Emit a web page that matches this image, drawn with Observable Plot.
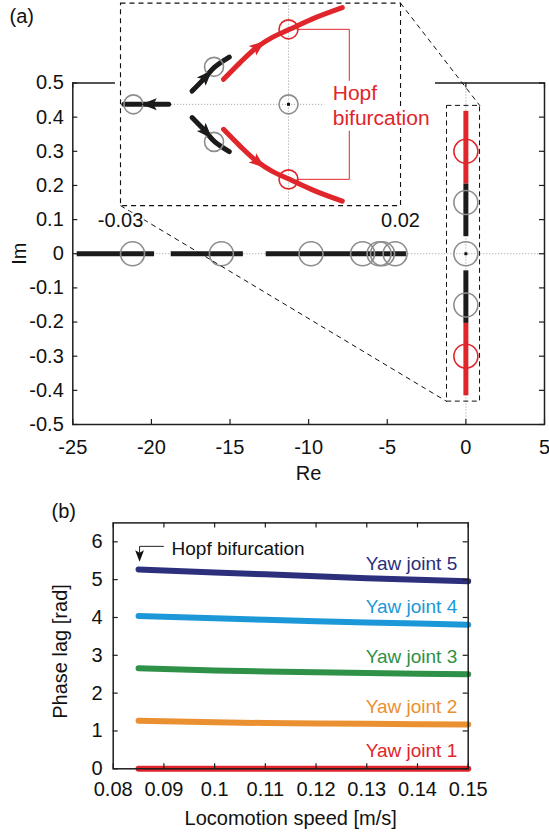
<!DOCTYPE html>
<html><head><meta charset="utf-8">
<script src="https://cdn.jsdelivr.net/npm/d3@7"></script>
<script src="https://cdn.jsdelivr.net/npm/@observablehq/plot@0.6"></script>
<style>
body{margin:0;background:#fff;}
#wrap{position:relative;width:549px;height:832px;overflow:hidden;background:#fff;}
</style></head><body><div id="wrap"></div>
<script>
// ================= Panel (a) data: root locus =================
const reTicks = [-25, -20, -15, -10, -5, 0, 5];
const imTicks = [-0.5, -0.4, -0.3, -0.2, -0.1, 0, 0.1, 0.2, 0.3, 0.4, 0.5];
const reBranchStart = [-24.72, -18.74, -12.7];
const reBranchEnd = [-19.8, -14.15, -3.78];
const realPoles = [-21.2, -15.55, -9.85, -6.57, -5.52, -5.3, -4.5];
const imSegLow = [0.204, 0.05, -0.204, -0.416];
const imSegHigh = [0.417, 0.204, -0.05, -0.204];
const imSegKind = ["unstable", "stable", "stable", "unstable"];
const imPoles = [0.3, 0.15, 0, -0.15, -0.3];
const imPoleKind = ["unstable", "stable", "stable", "stable", "unstable"];
const zoomRe = [-1.2, 0.9];
const zoomIm = [-0.433, 0.433];
const insetRe = [-21.97, -4.16];   // inset placement in main Re/Im units
const insetIm = [0.141, 0.734];

// ================= Inset data (zoom near origin) =================
const insetReDomain = [-0.03, 0.02];
const insetImDomain = [-0.405, 0.405];
const insetTicks = [-0.03, 0.02];
const redUpRe = [-0.0116, -0.0086, -0.0056, -0.0029, 0.0001, 0.0047, 0.0096];
const redUpIm = [0.100, 0.168, 0.229, 0.268, 0.299, 0.346, 0.387];
const blackUpRe = [-0.01722, -0.01485, -0.01325, -0.01058];
const blackUpIm = [0.053, 0.108, 0.148, 0.189];
const leftBranchRe = [-0.0294, -0.0214];
const leftArrowRe = -0.0246;
const insetDottedRe = [-0.0214, 0.0065];
const stablePoleRe = [-0.0277, -0.0133, -0.0133, 0];
const stablePoleIm = [0, 0.15, -0.15, 0];
const hopfPoleRe = [0, 0];
const hopfPoleIm = [0.3, -0.3];
const bracketRe = [0.0015, 0.01085, 0.01085];
const bracketUpIm = [0.3, 0.3, 0.096];
const bracketLoIm = [-0.3, -0.3, -0.107];
const hopfTextRe = 0.0079, hopfTextIm = 0.089;

// ================= Panel (b) data: phase lags =================
const speed = [0.085, 0.09, 0.10, 0.11, 0.12, 0.13, 0.14, 0.15];
const yaw1 = [0, 0, 0, 0, 0, 0, 0, 0];
const yaw2 = [1.27, 1.26, 1.23, 1.21, 1.20, 1.19, 1.18, 1.17];
const yaw3 = [2.66, 2.64, 2.60, 2.57, 2.55, 2.53, 2.51, 2.50];
const yaw4 = [4.04, 4.02, 3.98, 3.94, 3.90, 3.87, 3.84, 3.81];
const yaw5 = [5.27, 5.24, 5.19, 5.14, 5.09, 5.04, 5.00, 4.96];
const jointNames = ["Yaw joint 1", "Yaw joint 2", "Yaw joint 3", "Yaw joint 4", "Yaw joint 5"];
const speedTicks = [0.08, 0.09, 0.1, 0.11, 0.12, 0.13, 0.14, 0.15];
const lagTicks = [0, 1, 2, 3, 4, 5, 6];
const hopfLineSpeed = [0.0899, 0.0852, 0.0852];
const hopfLineLag = [5.88, 5.88, 5.72];
const hopfHeadSpeed = 0.0852, hopfHeadLag = 5.66;
const hopfLabelSpeed = 0.0915, hopfLabelLag = 5.82;

// ================= styling =================
const FONT = "'Liberation Sans', Arial, Helvetica, sans-serif";
const RED = "#e0262b", BLK = "#1b1b1b", GRY = "#8d8d8d", DOT = "#9a9a9a", AX = "#1e1e1e";
const jointColors = ["#e1252b", "#ea9030", "#2f9147", "#1c98d8", "#2b2f7c"];
const arrowHead = {
  draw(ctx, size) {
    const s = Math.sqrt(size / Math.PI);
    ctx.moveTo(0, -1.3 * s);
    ctx.lineTo(0.8 * s, 0.8 * s);
    ctx.lineTo(0, 0.35 * s);
    ctx.lineTo(-0.8 * s, 0.8 * s);
    ctx.closePath();
  }
};
const wrap = document.getElementById("wrap");

// ================= Panel (a) =================
const A = {w: 549, h: 480, ml: 72.3, mr: 5, mt: 82.5, mb: 56};
const aIW = A.w - A.ml - A.mr, aIH = A.h - A.mt - A.mb;
const plotA = Plot.plot({
  width: A.w, height: A.h, marginLeft: A.ml, marginRight: A.mr, marginTop: A.mt, marginBottom: A.mb,
  x: {domain: [-25, 5], axis: null}, y: {domain: [-0.5, 0.5], axis: null}, color: {type: "identity"},
  style: {fontFamily: FONT, position: "absolute", left: "0px", top: "0px", background: "transparent", overflow: "visible", color: "#111"},
  marks: [
    Plot.ruleY([0], {stroke: DOT, strokeDasharray: "1,2", strokeWidth: 1}),
    Plot.ruleX([0], {stroke: DOT, strokeDasharray: "1,2", strokeWidth: 1}),
    Plot.ruleY(reBranchStart.map((s, i) => ({x1: s, x2: reBranchEnd[i]})), {y: () => 0, x1: "x1", x2: "x2", stroke: BLK, strokeWidth: 5}),
    Plot.ruleX(imSegKind.map((k, i) => ({lo: imSegLow[i], hi: imSegHigh[i], k})), {x: () => 0, y1: "lo", y2: "hi", stroke: d => d.k === "unstable" ? RED : BLK, strokeWidth: 5}),
    Plot.dot(realPoles, {x: d => d, y: () => 0, r: 12, stroke: GRY, strokeWidth: 1.6, fill: "none"}),
    Plot.dot(imPoles.map((v, i) => ({v, k: imPoleKind[i]})), {x: () => 0, y: "v", r: 12, stroke: d => d.k === "unstable" ? RED : GRY, strokeWidth: 1.6, fill: "none"}),
    Plot.dot([0], {x: () => 0, y: () => 0, symbol: "square", r: 1.7, fill: "#111"}),
    Plot.rect([0], {x1: () => zoomRe[0], x2: () => zoomRe[1], y1: () => zoomIm[0], y2: () => zoomIm[1], fill: "none", stroke: "#111", strokeWidth: 1, strokeDasharray: "5,3.5"}),
    Plot.frame({stroke: AX, strokeWidth: 1.5}),
    Plot.tickX(reTicks, {x: d => d, insetTop: aIH - 5, stroke: AX, strokeWidth: 1.2}),
    Plot.tickX(reTicks, {x: d => d, insetBottom: aIH - 5, stroke: AX, strokeWidth: 1.2}),
    Plot.tickY(imTicks, {y: d => d, insetRight: aIW - 5, stroke: AX, strokeWidth: 1.2}),
    Plot.tickY(imTicks, {y: d => d, insetLeft: aIW - 5, stroke: AX, strokeWidth: 1.2}),
    // white backing of the inset (hides the frame behind it)
    Plot.rect([0], {x1: () => insetRe[0], x2: () => insetRe[1], y1: () => insetIm[0], y2: () => insetIm[1],
      fill: "white", insetLeft: -5, insetRight: -35, insetTop: -3, insetBottom: -2}),
    Plot.link([
      {x1: insetRe[1], y1: insetIm[1], x2: zoomRe[1], y2: zoomIm[1]},
      {x1: insetRe[0], y1: insetIm[0], x2: zoomRe[0], y2: zoomIm[0]}
    ], {x1: "x1", y1: "y1", x2: "x2", y2: "y2", stroke: "#111", strokeWidth: 1, strokeDasharray: "5,4"}),
    Plot.text(reTicks, {x: d => d, text: d => String(d), frameAnchor: "bottom", lineAnchor: "top", dy: 14.8, fontSize: 20, fill: "#111"}),
    Plot.text(imTicks, {y: d => d, text: d => String(d), frameAnchor: "left", textAnchor: "end", dx: -9, fontSize: 20, fill: "#111"}),
    Plot.text(["Re"], {frameAnchor: "bottom", lineAnchor: "top", dy: 40.8, fontSize: 20, fill: "#111"}),
    Plot.text(["Im"], {frameAnchor: "left", textAnchor: "middle", rotate: -90, dx: -53.7, fontSize: 20, fill: "#111"}),
    Plot.text(["(a)"], {frameAnchor: "top-left", textAnchor: "start", lineAnchor: "top", dx: 9 - A.ml, dy: 8.7 - A.mt, fontSize: 20, fill: "#111"})
  ]
});
wrap.appendChild(plotA);

// ================= Inset =================
const sxA = plotA.scale("x"), syA = plotA.scale("y");
const iL = sxA.apply(insetRe[0]), iR = sxA.apply(insetRe[1]);
const iT = syA.apply(insetIm[1]), iB = syA.apply(insetIm[0]);
const pad = {l: 5, r: 35, t: Math.min(3, iT), b: 2};
const I = {left: iL - pad.l, top: iT - pad.t, w: (iR - iL) + pad.l + pad.r, h: (iB - iT) + pad.t + pad.b};
const kx = (iR - iL) / (insetReDomain[1] - insetReDomain[0]);
const ky = (iB - iT) / (insetImDomain[1] - insetImDomain[0]);
function headAt(xsA, ysA, i, c) {
  const dxs = (xsA[i + 1] - xsA[i - 1]) * kx;
  const dys = -(ysA[i + 1] - ysA[i - 1]) * ky;
  return {x: xsA[i], y: ysA[i], rot: Math.atan2(dxs, -dys) * 180 / Math.PI, c};
}
const neg = a => a.map(v => -v);
const redPts = [
  ...redUpRe.map((x, i) => ({x, y: redUpIm[i], side: "up"})),
  ...redUpRe.map((x, i) => ({x, y: -redUpIm[i], side: "lo"}))
];
const blackPts = [
  ...blackUpRe.map((x, i) => ({x, y: blackUpIm[i], side: "up"})),
  ...blackUpRe.map((x, i) => ({x, y: -blackUpIm[i], side: "lo"}))
];
const heads = [
  headAt(redUpRe, redUpIm, 2, RED), headAt(redUpRe, neg(redUpIm), 2, RED),
  headAt(blackUpRe, blackUpIm, 1, BLK), headAt(blackUpRe, neg(blackUpIm), 1, BLK),
  {x: leftArrowRe, y: 0, rot: -90, c: BLK}
];
const plotI = Plot.plot({
  width: I.w, height: I.h, marginLeft: pad.l, marginRight: pad.r, marginTop: pad.t, marginBottom: pad.b,
  x: {domain: insetReDomain, axis: null}, y: {domain: insetImDomain, axis: null}, color: {type: "identity"},
  style: {fontFamily: FONT, position: "absolute", left: I.left + "px", top: I.top + "px", background: "transparent", overflow: "visible"},
  marks: [
    Plot.ruleX([0], {stroke: DOT, strokeDasharray: "1,2", strokeWidth: 1}),
    Plot.ruleY([0], {x1: () => insetDottedRe[0], x2: () => insetDottedRe[1], stroke: DOT, strokeDasharray: "1,2", strokeWidth: 1}),
    Plot.line(leftBranchRe, {x: d => d, y: () => 0, stroke: BLK, strokeWidth: 5}),
    Plot.line(blackPts, {x: "x", y: "y", z: "side", stroke: BLK, strokeWidth: 5, curve: "catmull-rom"}),
    Plot.line(redPts, {x: "x", y: "y", z: "side", stroke: RED, strokeWidth: 5, curve: "catmull-rom"}),
    Plot.dot(stablePoleRe.map((x, i) => ({x, y: stablePoleIm[i]})), {x: "x", y: "y", r: 9.5, stroke: GRY, strokeWidth: 1.6, fill: "none"}),
    Plot.dot(hopfPoleRe.map((x, i) => ({x, y: hopfPoleIm[i]})), {x: "x", y: "y", r: 9.5, stroke: RED, strokeWidth: 1.6, fill: "none"}),
    Plot.dot([0], {x: () => 0, y: () => 0, symbol: "square", r: 1.7, fill: "#111"}),
    Plot.dot(heads, {x: "x", y: "y", rotate: "rot", symbol: arrowHead, r: 7.5, fill: "c", stroke: "none"}),
    Plot.frame({stroke: "#111", strokeWidth: 1.1, strokeDasharray: "5,4"}),
    Plot.line(bracketRe.map((x, i) => ({x, y: bracketUpIm[i]})), {x: "x", y: "y", stroke: RED, strokeWidth: 1}),
    Plot.line(bracketRe.map((x, i) => ({x, y: bracketLoIm[i]})), {x: "x", y: "y", stroke: RED, strokeWidth: 1}),
    Plot.text(["Hopf\nbifurcation"], {x: () => hopfTextRe, y: () => hopfTextIm, textAnchor: "start", lineAnchor: "top", lineHeight: 1.19, fontSize: 21, fill: RED, stroke: "white", strokeWidth: 5}),
    Plot.text(insetTicks, {x: d => d, text: d => String(d), frameAnchor: "bottom", lineAnchor: "top", dy: 7.5, fontSize: 20, fill: "#111", stroke: "white", strokeWidth: 4})
  ]
});
wrap.appendChild(plotI);

// ================= Panel (b) =================
const B = {w: 549, h: 352, ml: 112.7, mr: 81.3, mt: 42.4, mb: 63.7};
const bIW = B.w - B.ml - B.mr, bIH = B.h - B.mt - B.mb;
const series = [yaw1, yaw2, yaw3, yaw4, yaw5];
const lineData = series.flatMap((vals, k) => vals.map((v, i) => ({joint: jointNames[k], c: jointColors[k], speed: speed[i], lag: v})));
const last = speed.length - 1;
const plotB = Plot.plot({
  width: B.w, height: B.h, marginLeft: B.ml, marginRight: B.mr, marginTop: B.mt, marginBottom: B.mb,
  x: {domain: [0.08, 0.15], axis: null}, y: {domain: [0, 6.5], axis: null}, color: {type: "identity"},
  style: {fontFamily: FONT, position: "absolute", left: "0px", top: "480px", background: "transparent", overflow: "visible"},
  marks: [
    Plot.line(lineData, {x: "speed", y: "lag", z: "joint", stroke: "c", strokeWidth: 6}),
    Plot.frame({stroke: AX, strokeWidth: 1.5}),
    Plot.tickX(speedTicks, {x: d => d, insetTop: bIH - 5, stroke: AX, strokeWidth: 1.2}),
    Plot.tickX(speedTicks, {x: d => d, insetBottom: bIH - 5, stroke: AX, strokeWidth: 1.2}),
    Plot.tickY(lagTicks, {y: d => d, insetRight: bIW - 5, stroke: AX, strokeWidth: 1.2}),
    Plot.tickY(lagTicks, {y: d => d, insetLeft: bIW - 5, stroke: AX, strokeWidth: 1.2}),
    Plot.text(jointNames.map((n, k) => ({n, c: jointColors[k], s: speed[last], v: series[k][last]})),
      {x: "s", y: "v", text: "n", fill: "c", textAnchor: "end", dx: -11, dy: -17.5, fontSize: 19}),
    Plot.line(hopfLineSpeed.map((s, i) => ({s, v: hopfLineLag[i]})), {x: "s", y: "v", stroke: "#222", strokeWidth: 1}),
    Plot.dot([0], {x: () => hopfHeadSpeed, y: () => hopfHeadLag, rotate: 180, symbol: arrowHead, r: 5.5, fill: "#111"}),
    Plot.text(["Hopf bifurcation"], {x: () => hopfLabelSpeed, y: () => hopfLabelLag, textAnchor: "start", fontSize: 19, fill: "#111"}),
    Plot.text(speedTicks, {x: d => d, text: d => String(d), frameAnchor: "bottom", lineAnchor: "top", dy: 12.5, fontSize: 20, fill: "#111"}),
    Plot.text(lagTicks, {y: d => d, text: d => String(d), frameAnchor: "left", textAnchor: "end", dx: -10.7, fontSize: 20, fill: "#111"}),
    Plot.text(["Locomotion speed [m/s]"], {frameAnchor: "bottom", lineAnchor: "top", dy: 41.8, fontSize: 20, fill: "#111"}),
    Plot.text(["Phase lag [rad]"], {frameAnchor: "left", textAnchor: "middle", rotate: -90, dx: -52.5, dy: 5.6, fontSize: 20, fill: "#111"}),
    Plot.text(["(b)"], {frameAnchor: "top-left", textAnchor: "start", lineAnchor: "top", dx: 51 - B.ml, dy: -18.7, fontSize: 20, fill: "#111"})
  ]
});
wrap.appendChild(plotB);
</script></body></html>
